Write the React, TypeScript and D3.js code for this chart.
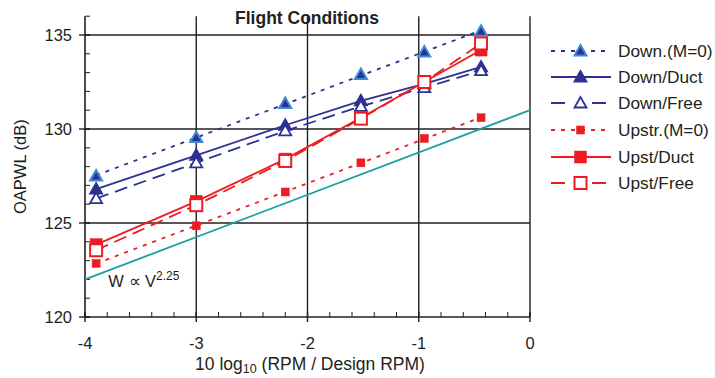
import React, { useRef, useEffect } from 'react';
import * as d3 from 'd3';

// x positions of the measured points (10 log10 RPM/design RPM)
const rpmX = [-3.9, -3.0, -2.2, -1.52, -0.95, -0.44];

// OAPWL (dB) for each case
const downM0 = [127.5, 129.55, 131.35, 132.9, 134.1, 135.2];
const downDuct = [126.8, 128.6, 130.2, 131.5, 132.4, 133.3];
const downFree = [126.3, 128.2, 129.9, 131.2, 132.2, 133.1];
const upstM0 = [122.85, 124.85, 126.65, 128.2, 129.5, 130.6];
const upstDuct = [123.85, 126.15, 128.4, 130.6, 132.5, 134.2];
const upstFree = [123.55, 125.95, 128.3, 130.55, 132.5, 134.55];

// W ~ V^2.25 reference line
const refX = [-4, 0];
const refY = [122, 131];

const xTicks = [-4, -3, -2, -1, 0];
const yTicks = [120, 125, 130, 135];

const NAVY = '#2e3192';
const LBLUE = '#3b8bd6';
const RED = '#ed1c24';
const TEAL = '#1a9fa0';
const INK = '#231f20';

type Series = {
  name: string;
  values: number[];
  color: string;
  dash: string | null;
  legendDash: string | null;
  fit: boolean;
  marker: 'tri' | 'triOpen' | 'triLight' | 'sq' | 'sqOpen' | 'sqSmall';
};

const series: Series[] = [
  { name: 'Down.(M=0)', values: downM0, color: NAVY, dash: '4 6', legendDash: '4 6', fit: true, marker: 'triLight' },
  { name: 'Down/Duct', values: downDuct, color: NAVY, dash: null, legendDash: null, fit: false, marker: 'tri' },
  { name: 'Down/Free', values: downFree, color: NAVY, dash: '13 7', legendDash: '14 27', fit: false, marker: 'triOpen' },
  { name: 'Upstr.(M=0)', values: upstM0, color: RED, dash: '4 6', legendDash: '4 6', fit: true, marker: 'sqSmall' },
  { name: 'Upst/Duct', values: upstDuct, color: RED, dash: null, legendDash: null, fit: false, marker: 'sq' },
  { name: 'Upst/Free', values: upstFree, color: RED, dash: '13 7', legendDash: '14 27', fit: false, marker: 'sqOpen' },
];

function drawMarker(g: any, kind: string, cx: number, cy: number, color: string) {
  if (kind === 'tri' || kind === 'triOpen' || kind === 'triLight') {
    const s = 6;
    const pts = `${cx},${cy - s} ${cx - s},${cy + s * 0.75} ${cx + s},${cy + s * 0.75}`;
    g.append('polygon')
      .attr('points', pts)
      .attr('fill', kind === 'triOpen' ? '#fff' : kind === 'triLight' ? NAVY : color)
      .attr('stroke', kind === 'triLight' ? LBLUE : color)
      .attr('stroke-width', kind === 'triLight' ? 2 : 1.8)
      .attr('stroke-linejoin', 'miter');
  } else {
    const s = kind === 'sqSmall' ? 4 : 6;
    g.append('rect')
      .attr('x', cx - s)
      .attr('y', cy - s)
      .attr('width', s * 2)
      .attr('height', s * 2)
      .attr('fill', kind === 'sqOpen' ? '#fff' : color)
      .attr('stroke', color)
      .attr('stroke-width', kind === 'sqOpen' ? 2 : 0.5);
  }
}

function Chart() {
  const ref = useRef<SVGSVGElement>(null);

  useEffect(() => {
    const svg = d3.select(ref.current);
    svg.selectAll('*').remove();

    const font = 'Liberation Sans, Arial, Helvetica, sans-serif';
    const x = d3.scaleLinear().domain([-4, 0]).range([85, 530]);
    const y = d3.scaleLinear().domain([120, 136]).range([317, 16.2]);

    // grid
    const grid = svg.append('g').attr('stroke', INK).attr('stroke-width', 1.4);
    xTicks.slice(1).forEach(t => {
      grid.append('line').attr('x1', x(t)).attr('x2', x(t)).attr('y1', y(136)).attr('y2', y(120));
    });
    yTicks.slice(1).forEach(t => {
      grid.append('line').attr('x1', x(-4)).attr('x2', x(0)).attr('y1', y(t)).attr('y2', y(t));
    });

    // axes lines
    const ax = svg.append('g').attr('stroke', INK);
    ax.append('line').attr('x1', x(-4)).attr('x2', x(-4)).attr('y1', y(136)).attr('y2', y(120)).attr('stroke-width', 1.6);
    ax.append('line').attr('x1', x(-4)).attr('x2', x(0)).attr('y1', y(120)).attr('y2', y(120)).attr('stroke-width', 1.6);

    // minor ticks
    d3.range(-4, 0.001, 0.2).forEach(t => {
      ax.append('line').attr('x1', x(t)).attr('x2', x(t)).attr('y1', y(120)).attr('y2', y(120) - 5).attr('stroke-width', 1);
    });
    d3.range(120, 136.001, 1).forEach(t => {
      ax.append('line').attr('x1', x(-4)).attr('x2', x(-4) + 5).attr('y1', y(t)).attr('y2', y(t)).attr('stroke-width', 1);
    });
    // major ticks
    xTicks.forEach(t => {
      ax.append('line').attr('x1', x(t)).attr('x2', x(t)).attr('y1', y(120) - 5).attr('y2', y(120) + 5).attr('stroke-width', 1.4);
    });
    yTicks.forEach(t => {
      ax.append('line').attr('x1', x(-4) - 6).attr('x2', x(-4) + 5).attr('y1', y(t)).attr('y2', y(t)).attr('stroke-width', 1.4);
    });

    // tick labels
    const lab = svg.append('g').attr('font-family', font).attr('font-size', 16.5).attr('fill', INK);
    xTicks.forEach(t => {
      lab.append('text').attr('x', x(t)).attr('y', 349).attr('text-anchor', 'middle').text(t);
    });
    yTicks.forEach(t => {
      lab.append('text').attr('x', 72).attr('y', y(t) + 6).attr('text-anchor', 'end').text(t);
    });

    // axis titles
    const xt = svg.append('text').attr('font-family', font).attr('font-size', 17.5).attr('fill', INK)
      .attr('x', 310).attr('y', 370).attr('text-anchor', 'middle');
    xt.append('tspan').text('10 log');
    xt.append('tspan').attr('font-size', 12.5).attr('dy', 3).text('10');
    xt.append('tspan').attr('dy', -3).text(' (RPM / Design RPM)');

    svg.append('text').attr('font-family', font).attr('font-size', 16.5).attr('fill', INK)
      .attr('transform', `translate(26,${y(128)}) rotate(-90)`).attr('text-anchor', 'middle')
      .text('OAPWL (dB)');

    svg.append('text').attr('font-family', font).attr('font-size', 17.5).attr('font-weight', 'bold').attr('fill', INK)
      .attr('x', 307).attr('y', 24).attr('text-anchor', 'middle').text('Flight Conditions');

    // reference slope line
    const line = d3.line<[number, number]>().x(d => x(d[0])).y(d => y(d[1]));
    svg.append('path')
      .datum(refX.map((v, i) => [v, refY[i]] as [number, number]))
      .attr('fill', 'none').attr('stroke', TEAL).attr('stroke-width', 1.8).attr('d', line);

    const ann = svg.append('text').attr('font-family', font).attr('font-size', 16.5).attr('fill', INK)
      .attr('x', x(-3.79)).attr('y', y(121.6));
    ann.append('tspan').text('W \u221D V');
    ann.append('tspan').attr('font-size', 12).attr('dy', -7).text('2.25');

    // data series
    series.forEach(s => {
      let pts: [number, number][] = rpmX.map((v, i) => [v, s.values[i]]);
      if (s.fit) {
        const mx = d3.mean(rpmX) as number;
        const my = d3.mean(s.values) as number;
        const sxy = d3.sum(rpmX, (v, i) => (v - mx) * (s.values[i] - my));
        const sxx = d3.sum(rpmX, v => (v - mx) ** 2);
        const b = sxy / sxx;
        const a = my - b * mx;
        const x0 = rpmX[0], x1 = rpmX[rpmX.length - 1];
        pts = [[x0, a + b * x0], [x1, a + b * x1]];
      }
      const g = svg.append('g');
      g.append('path').datum(pts)
        .attr('fill', 'none').attr('stroke', s.color).attr('stroke-width', 1.8)
        .attr('stroke-dasharray', s.dash)
        .attr('d', line);
      rpmX.forEach((v, i) => drawMarker(g, s.marker, x(v), y(s.values[i]), s.color));
    });

    // legend
    const leg = svg.append('g');
    const rowY = [51, 77, 103, 130, 157, 183];
    series.forEach((s, i) => {
      const ry = rowY[i];
      const dashed = s.dash === '13 7';
      leg.append('line').attr('x1', 551).attr('x2', dashed ? 606 : 611).attr('y1', ry).attr('y2', ry)
        .attr('stroke', s.color).attr('stroke-width', 1.8).attr('stroke-dasharray', s.legendDash);
      drawMarker(leg, s.marker, 580.5, ry, s.color);
      leg.append('text').attr('font-family', font).attr('font-size', 17.3).attr('fill', INK)
        .attr('x', 618).attr('y', ry + 6).text(s.name);
    });
  }, []);

  return <svg ref={ref} width={715} height={378} style={{ display: 'block', background: '#fff' }} />;
}

export default function App() {
  useEffect(() => {
    document.body.style.margin = '0';
  }, []);
  return <Chart />;
}
